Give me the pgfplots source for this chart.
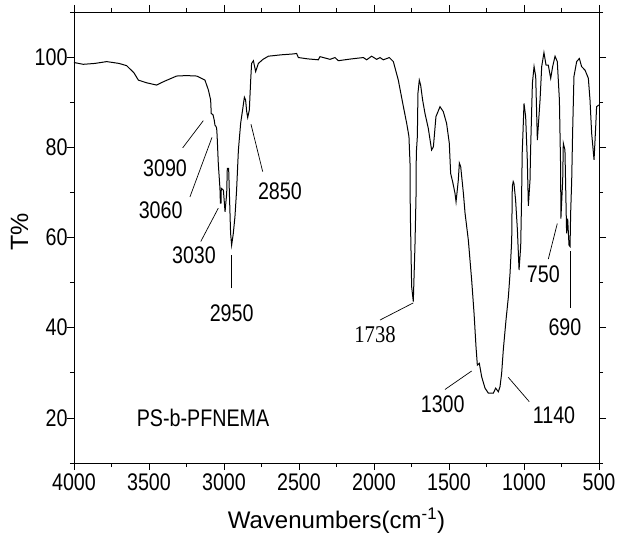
\documentclass[border=0pt]{standalone}
\usepackage{fontspec}
\setmainfont{Liberation Sans}
\newfontfamily\narrow{Liberation Sans}[FakeStretch=0.82]
\newfontfamily\timesnarrow{Liberation Serif}[FakeStretch=0.86]
\usepackage{pgfplots}
\pgfplotsset{compat=1.18}

\pgfplotstableread{
w T
4000 98.8
3938 98.4
3860 98.6
3782 99.0
3700 98.6
3649 98.1
3600 96.5
3571 94.9
3516 94.3
3449 93.8
3400 94.6
3316 95.8
3250 95.9
3182 95.8
3127 94.9
3104 92.7
3089 90.5
3085 87.5
3073 87.2
3065 86.0
3060 84.9
3053 84.6
3049 84.2
3046 82.7
3038 76.4
3027 70.9
3024 67.6
3020 67.6
3018 70.9
3004 70.5
2993 65.7
2982 69.8
2978 75.3
2969 75.3
2964 69.8
2956 60.9
2949 58.3
2938 60.9
2927 64.6
2916 70.5
2904 79.4
2889 85.3
2876 88.3
2864 91.1
2856 90.5
2849 88.0
2842 86.6
2831 88.3
2822 94.9
2816 98.6
2804 99.2
2789 96.8
2771 98.6
2740 99.5
2704 100.2
2620 100.5
2538 100.7
2516 100.8
2504 99.9
2440 99.6
2371 99.4
2360 100.1
2293 99.5
2260 99.9
2238 99.2
2150 99.6
2071 99.9
2049 99.4
2016 100.2
1982 99.5
1960 99.9
1938 99.4
1898 99.9
1871 99.0
1838 94.9
1804 89.0
1782 85.3
1767 82.4
1760 76.5
1758 65.7
1749 49.1
1738 45.8
1727 58.0
1720 69.0
1718 78.7
1711 82.4
1707 92.0
1698 94.9
1689 93.8
1676 90.5
1660 87.5
1638 84.2
1616 79.4
1604 80.1
1587 86.8
1560 89.0
1538 87.9
1516 85.3
1498 80.9
1489 74.2
1476 72.4
1460 69.8
1453 67.9
1438 72.7
1431 76.5
1422 75.7
1404 69.8
1393 65.4
1371 59.4
1349 50.6
1333 43.2
1320 35.8
1311 31.7
1298 32.1
1282 29.1
1260 26.6
1238 25.5
1204 25.5
1189 26.6
1171 25.8
1160 26.9
1149 29.9
1138 35.1
1120 41.7
1104 46.9
1093 52.1
1082 59.4
1078 71.3
1072 72.4
1067 72.0
1056 68.3
1044 61.7
1033 52.8
1022 58.0
1016 69.0
1012 78.7
1007 83.1
1000 89.7
989 86.8
978 77.2
971 67.0
960 72.7
956 79.4
944 94.2
933 97.9
922 95.7
911 81.6
893 90.5
882 97.9
867 101.0
853 98.2
838 98.2
822 95.3
809 97.9
793 100.2
778 99.0
764 90.5
756 75.7
754 64.2
742 72.7
738 80.9
727 79.4
716 60.9
709 64.2
700 58.3
693 58.0
689 65.4
682 72.7
676 83.1
667 95.7
649 99.0
631 99.7
616 97.9
593 97.1
571 95.3
560 90.5
549 83.1
533 77.2
522 84.6
516 89.0
500 89.4
}\spectrum

\begin{document}
\begin{tikzpicture}
\begin{axis}[
    scale only axis,
    width=525pt, height=451pt,
    x dir=reverse,
    xmin=500, xmax=4000,
    ymin=10, ymax=110,
    xtick={500,1000,...,4000},
    minor xtick={750,1250,...,3750},
    ytick={20,40,...,100},
    minor ytick={10,30,...,110},
    tick align=outside,
    major tick length=7pt,
    minor tick length=4pt,
    every tick/.style={black, line width=0.8pt},
    axis line style={line width=0.8pt},
    /pgf/number format/assume math mode=true,
    /pgf/number format/1000 sep={},
    tick label style={font=\narrow\fontsize{24}{28}\selectfont},
    yticklabel style={xshift=4pt},
    xlabel={Wavenumbers(cm\textsuperscript{-1})},
    ylabel={T\%},
    xlabel style={font=\fontsize{24}{28}\selectfont, at={(axis description cs:0.5,-0.1463)}, anchor=base},
    ylabel style={font=\fontsize{25}{29}\selectfont, at={(axis description cs:-0.0876,0.512)}, anchor=base},
    clip=false,
]
\addplot[black, line width=1pt, no marks] table[x=w, y=T] {\spectrum};

% peak labels
\begin{scope}[every node/.style={font=\narrow\fontsize{24}{28}\selectfont, inner sep=0pt}]
\draw[line width=0.7pt] (axis cs:3275,79.9) -- (axis cs:3138,85.9);
\node at (axis cs:3393,75.3) {3090};
\draw[line width=0.7pt] (axis cs:3227,69.0) -- (axis cs:3080,82.2);
\node at (axis cs:3422,66.1) {3060};
\draw[line width=0.7pt] (axis cs:3155,59.1) -- (axis cs:3038,66.5);
\node at (axis cs:3200,56.1) {3030};
\draw[line width=0.7pt] (axis cs:2949,48.7) -- (axis cs:2949,56.1);
\node at (axis cs:2949,43.2) {2950};
\draw[line width=0.7pt] (axis cs:2742,74.6) -- (axis cs:2820,85.1);
\node at (axis cs:2627,70.2) {2850};
\draw[line width=0.7pt] (axis cs:1960,41.7) -- (axis cs:1738,45.5);
\node[font=\timesnarrow\fontsize{24}{28}\selectfont] at (axis cs:1993,38.4) {1738};
\draw[line width=0.7pt] (axis cs:1527,26.3) -- (axis cs:1349,30.4);
\node at (axis cs:1542,23.1) {1300};
\draw[line width=0.7pt] (axis cs:965,23.6) -- (axis cs:1105,29.0);
\node at (axis cs:800,20.6) {1140};
\draw[line width=0.7pt] (axis cs:838,55.2) -- (axis cs:778,63.1);
\node at (axis cs:871,51.8) {750};
\draw[line width=0.7pt] (axis cs:693,44.4) -- (axis cs:693,56.9);
\node at (axis cs:727,40.2) {690};
\node at (axis cs:3140,20.0) {PS-b-PFNEMA};
\end{scope}
\end{axis}
\pgfresetboundingbox
\path ([shift={(-74pt,-72pt)}]current axis.south west) rectangle ([shift={(18pt,12pt)}]current axis.north east);
\end{tikzpicture}
\end{document}
